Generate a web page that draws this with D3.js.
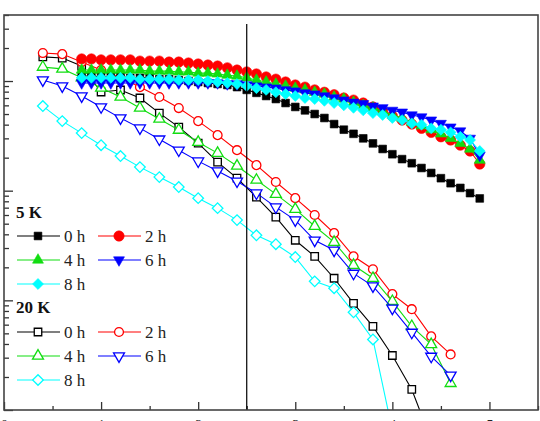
<!DOCTYPE html>
<html>
<head>
<meta charset="utf-8">
<script src="https://cdn.jsdelivr.net/npm/d3@7"></script>
<style>
  html, body { margin: 0; padding: 0; background: #fff; overflow: hidden; }
  svg { display: block; }
  text { font-family: "Liberation Serif", "Times New Roman", serif; }
</style>
</head>
<body>
<div id="chart"></div>
<script>
// x positions of the two data sets
const xCold = [0.8, 0.9, 1.0, 1.1, 1.2, 1.3, 1.4, 1.5, 1.6, 1.7, 1.8, 1.9, 2.0, 2.1,
    2.2, 2.3, 2.4, 2.5, 2.6, 2.7, 2.8, 2.9, 3.0, 3.1, 3.2, 3.3, 3.4, 3.5, 3.6, 3.7,
    3.8, 3.9, 4.0, 4.1, 4.2, 4.3, 4.4, 4.5, 4.6, 4.7, 4.8, 4.9];
const xWarm = [0.4, 0.6, 0.8, 1.0, 1.2, 1.4, 1.6, 1.8, 2.0, 2.2, 2.4, 2.6, 2.8, 3.0,
    3.2, 3.4, 3.6, 3.8, 4.0, 4.2, 4.4, 4.6];

// 5 K (filled markers)
const k5_0h = [1.11, 1.11, 1.09, 1.09, 1.09, 1.07, 1.07, 1.07, 1.04, 1.04, 1.02, 1.00, 0.98, 0.96,
    0.94, 0.92, 0.88, 0.83, 0.78, 0.73, 0.685, 0.63, 0.58, 0.54, 0.50, 0.46, 0.405, 0.36, 0.33, 0.30,
    0.27, 0.24, 0.215, 0.194, 0.178, 0.161, 0.145, 0.130, 0.117, 0.106, 0.095, 0.085];
const k5_2h = [1.59, 1.59, 1.56, 1.56, 1.56, 1.56, 1.52, 1.52, 1.52, 1.49, 1.49, 1.46, 1.43, 1.40,
    1.37, 1.32, 1.26, 1.21, 1.16, 1.09, 1.04, 0.98, 0.92, 0.88, 0.83, 0.79, 0.75, 0.70, 0.67, 0.63,
    0.58, 0.53, 0.48, 0.44, 0.405, 0.37, 0.34, 0.31, 0.29, 0.26, 0.23, 0.175];
const k5_4h = [1.26, 1.26, 1.26, 1.26, 1.26, 1.26, 1.26, 1.23, 1.23, 1.23, 1.21, 1.21, 1.18, 1.18,
    1.16, 1.13, 1.11, 1.07, 1.02, 0.98, 0.94, 0.90, 0.86, 0.83, 0.79, 0.76, 0.715, 0.685, 0.64, 0.60,
    0.57, 0.53, 0.49, 0.46, 0.42, 0.39, 0.36, 0.33, 0.30, 0.27, 0.24, 0.19];
const k5_6h = [0.96, 0.96, 0.96, 0.96, 0.96, 0.96, 0.96, 0.96, 0.96, 0.96, 0.96, 0.96, 0.96, 0.96,
    0.96, 0.94, 0.94, 0.92, 0.90, 0.88, 0.86, 0.83, 0.81, 0.78, 0.76, 0.73, 0.70, 0.67, 0.64, 0.62,
    0.59, 0.57, 0.54, 0.52, 0.49, 0.47, 0.44, 0.41, 0.38, 0.35, 0.30, 0.21];
const k5_8h = [1.07, 1.07, 1.07, 1.07, 1.07, 1.07, 1.04, 1.04, 1.04, 1.04, 1.02, 1.02, 1.02, 1.00,
    0.98, 0.96, 0.94, 0.90, 0.86, 0.83, 0.79, 0.76, 0.73, 0.70, 0.685, 0.66, 0.63, 0.60, 0.57, 0.54,
    0.51, 0.49, 0.46, 0.44, 0.41, 0.40, 0.37, 0.36, 0.34, 0.31, 0.29, 0.23];

// 20 K (open markers)
const k20_0h = [1.66, 1.62, 1.37, 0.794, 0.828, 0.700, 0.510, 0.380, 0.271, 0.182, 0.130, 0.0873,
    0.0573, 0.0353, 0.0252, 0.0159, 0.0094, 0.00579, 0.00314, 0.00154, 0.00053];
const k20_2h = [1.80, 1.76, 1.49, 1.26, 1.07, 0.88, 0.715, 0.567, 0.431, 0.321, 0.234, 0.171,
    0.120, 0.0855, 0.060, 0.041, 0.0252, 0.0192, 0.0114, 0.0083, 0.00469, 0.00321];
const k20_4h = [1.34, 1.29, 1.07, 0.863, 0.715, 0.567, 0.450, 0.357, 0.277, 0.220, 0.168, 0.125,
    0.093, 0.0678, 0.0474, 0.0339, 0.0209, 0.0159, 0.00979, 0.00579, 0.00396, 0.00175];
const k20_6h = [1.02, 0.90, 0.73, 0.58, 0.459, 0.372, 0.295, 0.234, 0.186, 0.151, 0.122, 0.095,
    0.0708, 0.0539, 0.0353, 0.0286, 0.0176, 0.0135, 0.00845, 0.0051, 0.00308, 0.00207];
const k20_8h = [0.591, 0.431, 0.335, 0.260, 0.207, 0.164, 0.133, 0.108, 0.0855, 0.0693, 0.0539,
    0.0392, 0.0325, 0.0248, 0.0149, 0.0129, 0.00777, 0.0044, 0.00065];

const hourLabels = ["0 h", "2 h", "4 h", "6 h", "8 h"];
const xMajor = [0, 1, 2, 3, 4, 5];
const xMinor = [0.5, 1.5, 2.5, 3.5, 4.5, 5.5];
const markerLine = 2.5;

const dimension = {
    width: 540,
    height: 421,
    margin: { top: 15, right: 2, bottom: 11, left: 4 },
};
dimension.boundedWidth = dimension.width - dimension.margin.left - dimension.margin.right;
dimension.boundedHeight = dimension.height - dimension.margin.top - dimension.margin.bottom;

const colors = ["#000000", "#ff0000", "#11dd11", "#0000ff", "#00ffff"];
const shapes = ["square", "circle", "up", "down", "diamond"];

// SCALES
const xScale = d3.scaleLinear()
    .domain([0, 5.5])
    .range([0, dimension.boundedWidth]);
const yScale = d3.scaleLog()
    .domain([0.001, 4.0])
    .range([dimension.boundedHeight, 0]);

const svg = d3.select("#chart")
    .append("svg")
    .attr("width", dimension.width)
    .attr("height", dimension.height);

svg.append("defs").append("clipPath")
    .attr("id", "plotClip")
    .append("rect")
    .attr("width", dimension.boundedWidth)
    .attr("height", dimension.boundedHeight);

const bounds = svg.append("g")
    .attr("transform", `translate(${dimension.margin.left},${dimension.margin.top})`);

// AXES (ticks pointing inward, labels mostly below the picture edge)
const xAxisMajor = d3.axisBottom(xScale).tickValues(xMajor).tickSize(-8).tickPadding(10)
    .tickFormat(d3.format("d"));
const xAxisMinor = d3.axisBottom(xScale).tickValues(xMinor).tickSize(-4).tickFormat("");
const gx = bounds.append("g").attr("transform", `translate(0,${dimension.boundedHeight})`).call(xAxisMajor);
const gx2 = bounds.append("g").attr("transform", `translate(0,${dimension.boundedHeight})`).call(xAxisMinor);
gx.selectAll("text").attr("font-size", 14).attr("fill", "#222")
    .style("font-family", "'Liberation Serif', serif");

const yMajor = [0.001, 0.01, 0.1, 1];
const yMinor = [];
[0.001, 0.01, 0.1, 1].forEach(dec => {
    for (let k = 2; k <= 9; k++) {
        if (dec * k <= 4.0) yMinor.push(dec * k);
    }
});
const gy = bounds.append("g").call(d3.axisLeft(yScale).tickValues(yMajor).tickSize(-9).tickFormat(""));
const gy2 = bounds.append("g").call(d3.axisLeft(yScale).tickValues(yMinor).tickSize(-5).tickFormat(""));

[gx, gx2, gy, gy2].forEach(g => {
    g.select(".domain").remove();
    g.selectAll("line").attr("stroke", "#333").attr("stroke-width", 1.3);
});

// SYMBOL PATHS
function symbolPath(shape, open) {
    if (shape == "square") return d3.symbol(d3.symbolSquare, open ? 56 : 60)();
    if (shape == "circle") return d3.symbol(d3.symbolCircle, open ? 62 : 84)();
    if (shape == "up" || shape == "down") return d3.symbol(d3.symbolTriangle, open ? 52 : 52)();
    return d3.symbol(d3.symbolSquare, open ? 56 : 60)();
}
function symbolRotate(shape) {
    if (shape == "down") return 180;
    if (shape == "diamond") return 45;
    return 0;
}

const plot = bounds.append("g").attr("clip-path", "url(#plotClip)");

const line = d3.line()
    .x(d => xScale(d.x))
    .y(d => yScale(d.y));

function drawSeries(xs, ys, i, open) {
    const data = ys.map((v, j) => ({ x: xs[j], y: v }));
    const g = plot.append("g");
    g.append("path")
        .datum(data)
        .attr("d", line)
        .attr("fill", "none")
        .attr("stroke", colors[i])
        .attr("stroke-width", 1.1);
    g.selectAll("path.mark")
        .data(data)
        .enter()
        .append("path")
        .attr("class", "mark")
        .attr("d", symbolPath(shapes[i], open))
        .attr("transform", d => `translate(${xScale(d.x)},${yScale(d.y)}) rotate(${symbolRotate(shapes[i])})`)
        .attr("fill", open ? "#fff" : colors[i])
        .attr("stroke", colors[i])
        .attr("stroke-width", open ? 1.3 : 0.6);
}

// 20 K underneath, 5 K on top
[k20_0h, k20_2h, k20_4h, k20_6h, k20_8h].forEach((ys, i) => drawSeries(xWarm, ys, i, true));
[k5_0h, k5_2h, k5_4h, k5_6h, k5_8h].forEach((ys, i) => drawSeries(xCold, ys, i, false));

// vertical marker line
bounds.append("line")
    .attr("x1", xScale(markerLine)).attr("x2", xScale(markerLine))
    .attr("y1", 9).attr("y2", dimension.boundedHeight)
    .attr("stroke", "#000")
    .attr("stroke-width", 1.2);

// FRAME
bounds.append("rect")
    .attr("width", dimension.boundedWidth)
    .attr("height", dimension.boundedHeight)
    .attr("fill", "none")
    .attr("stroke", "#444")
    .attr("stroke-width", 1.6);

// LEGEND
const legend = svg.append("g");
function legendBlock(title, titleY, rowY, open) {
    legend.append("text")
        .attr("x", 16).attr("y", titleY)
        .attr("font-size", 17).attr("font-weight", "bold")
        .attr("fill", "#111")
        .text(title);
    hourLabels.forEach((label, i) => {
        const col = i % 2;
        const row = Math.floor(i / 2);
        const x0 = col == 0 ? 17 : 98;
        const y0 = rowY + row * 24;
        const item = legend.append("g");
        item.append("line")
            .attr("x1", x0).attr("x2", x0 + 43)
            .attr("y1", y0).attr("y2", y0)
            .attr("stroke", colors[i]).attr("stroke-width", 1.1);
        item.append("path")
            .attr("d", symbolPath(shapes[i], open))
            .attr("transform", `translate(${x0 + 21},${y0}) rotate(${symbolRotate(shapes[i])})`)
            .attr("fill", open ? "#fff" : colors[i])
            .attr("stroke", colors[i])
            .attr("stroke-width", open ? 1.3 : 0.6);
        item.append("text")
            .attr("x", x0 + 47).attr("y", y0 + 6)
            .attr("font-size", 17)
            .attr("fill", "#222")
            .text(label);
    });
}
legendBlock("5 K", 218, 236, false);
legendBlock("20 K", 313, 332, true);
</script>
</body>
</html>
